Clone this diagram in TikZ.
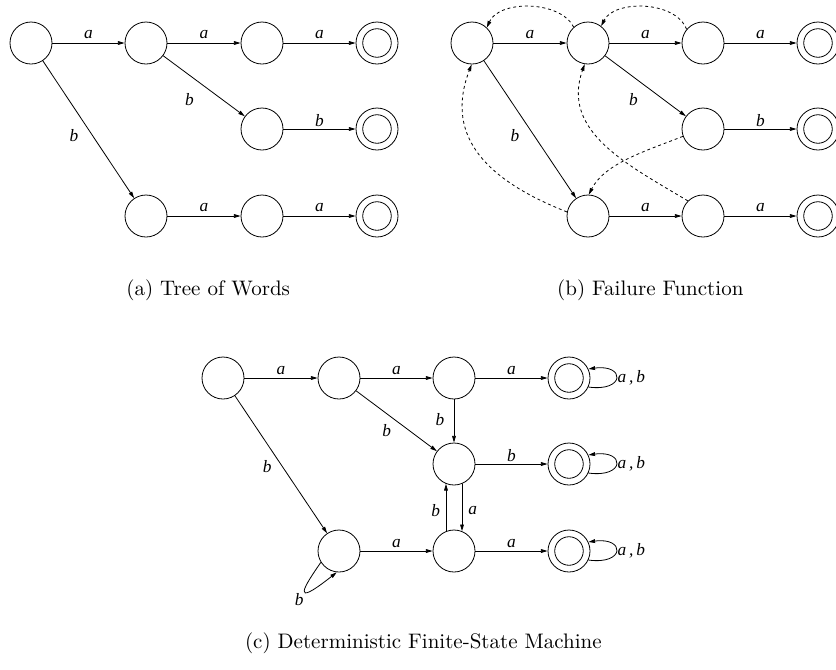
\documentclass[tikz,border=0pt]{standalone}
\usepackage{fontspec}
\newfontfamily\lblfamily{Liberation Serif}
\usetikzlibrary{arrows.meta}
\newcommand\lblfont{\fontsize{13}{15}\selectfont\lblfamily\itshape}
\newcommand\capfont{\fontsize{10}{12}\selectfont}
\tikzset{
  state/.style={circle, draw, line width=0.6pt, minimum size=31.5pt, inner sep=0pt},
  accept/.style={state, path picture={\draw[line width=0.6pt] (path picture bounding box.center) circle (10.7pt);}},
  arr/.style={-{Triangle[length=5pt,width=2.8pt]}, line width=0.6pt},
  fail/.style={arr, dash pattern=on 2.2pt off 2.2pt},
  lab/.style={font=\lblfont, inner sep=0pt},
  captext/.style={font=\capfont, inner sep=0pt, scale=1.575}
}
\begin{document}
\begin{tikzpicture}[x=0.75pt, y=-0.75pt]
\useasboundingbox (0,0) rectangle (836,669);
\clip (0,0) rectangle (836,669);
% ---------- panel (a)
\node[state]  (a0) at (31,43) {};
\node[state]  (a1) at (146,43) {};
\node[state]  (a2) at (262,43) {};
\node[accept] (a3) at (377,43) {};
\node[state]  (am) at (262,129) {};
\node[accept] (am2) at (377,129) {};
\node[state]  (ab) at (146,216) {};
\node[state]  (ab2) at (262,216) {};
\node[accept] (ab3) at (377,216) {};
\draw[arr] (a0) -- node[lab, shift={(0,-8)}] (la1) {a} (a1);
\draw[arr] (a1) -- node[lab, shift={(0,-8)}] (la2) {a} (a2);
\draw[arr] (a2) -- node[lab, shift={(0,-8)}] (la3) {a} (a3);
\draw[arr] (a1) -- node[lab, shift={(-14.6,13.3)}] (la4) {b} (am);
\draw[arr] (am) -- node[lab, shift={(0,-8)}] (la5) {b} (am2);
\draw[arr] (a0) -- node[lab, shift={(-14.5,6.2)}] (la6) {b} (ab);
\draw[arr] (ab) -- node[lab, shift={(0,-8)}] (la7) {a} (ab2);
\draw[arr] (ab2) -- node[lab, shift={(0,-8)}] (la8) {a} (ab3);
\node[captext] (capa) at (208.2,290) {(a) Tree of Words};
% ---------- panel (b)
\node[state]  (b0) at (472,43) {};
\node[state]  (b1) at (588,43) {};
\node[state]  (b2) at (703,43) {};
\node[accept] (b3) at (818,43) {};
\node[state]  (bm) at (703,129) {};
\node[accept] (bm2) at (818,129) {};
\node[state]  (bb) at (588,216) {};
\node[state]  (bb2) at (703,216) {};
\node[accept] (bb3) at (818,216) {};
\draw[arr] (b0) -- node[lab, shift={(0,-8)}] (lb1) {a} (b1);
\draw[arr] (b1) -- node[lab, shift={(0,-8)}] (lb2) {a} (b2);
\draw[arr] (b2) -- node[lab, shift={(0,-8)}] (lb3) {a} (b3);
\draw[arr] (b1) -- node[lab, shift={(-12,13.3)}] (lb4) {b} (bm);
\draw[arr] (bm) -- node[lab, shift={(0,-8)}] (lb5) {b} (bm2);
\draw[arr] (b0) -- node[lab, shift={(-15,6.2)}] (lb6) {b} (bb);
\draw[arr] (bb) -- node[lab, shift={(0,-8)}] (lb7) {a} (bb2);
\draw[arr] (bb2) -- node[lab, shift={(0,-8)}] (lb8) {a} (bb3);
\draw[fail] (b1.132) .. controls (560,0) and (499,0) .. (b0.46);
\draw[fail] (b2.140) .. controls (675,0) and (614,0) .. (b1.52);
\draw[fail] (bb.169) .. controls (491,182) and (443,139) .. (b0.269);
\draw[fail] (bb2.135) .. controls (626,164) and (561,131) .. (b1.261);
\draw[fail] (bm.200) .. controls (646,151) and (605,163) .. (bb.88);
\node[captext] (capb) at (650.3,290) {(b) Failure Function};
% ---------- panel (c)
\node[state]  (c0) at (223,378) {};
\node[state]  (c1) at (339,378) {};
\node[state]  (c2) at (454,378) {};
\node[accept] (c3) at (569,378) {};
\node[state]  (cm) at (454,464) {};
\node[accept] (cm2) at (569,464) {};
\node[state]  (cb) at (339,551) {};
\node[state]  (cb2) at (454,551) {};
\node[accept] (cb3) at (569,551) {};
\draw[arr] (c0) -- node[lab, shift={(0,-8)}] (lc1) {a} (c1);
\draw[arr] (c1) -- node[lab, shift={(0,-8)}] (lc2) {a} (c2);
\draw[arr] (c2) -- node[lab, shift={(0,-8)}] (lc3) {a} (c3);
\draw[arr] (c1) -- node[lab, shift={(-9.8,10)}] (lc4) {b} (cm);
\draw[arr] (c2) -- node[lab, shift={(-14,-1)}] (lc5) {b} (cm);
\draw[arr] (cm) -- node[lab, shift={(0,-8)}] (lc6) {b} (cm2);
\draw[arr] (c0) -- node[lab, shift={(-13.7,2.2)}] (lc7) {b} (cb);
\draw[arr] (cb) -- node[lab, shift={(0,-8)}] (lc8) {a} (cb2);
\draw[arr] (cb2) -- node[lab, shift={(0,-8)}] (lc9) {a} (cb3);
\draw[arr] (cm.-68) -- node[lab, shift={(10.7,3.2)}] (lc10) {a} (cb2.68);
\draw[arr] (cb2.112) -- node[lab, shift={(-10.3,3.2)}] (lc11) {b} (cm.-112);
\draw[arr] (c3.-25) .. controls +(37,5) and +(37,-5) .. node[lab, anchor=west, shift={(1,0)}] (lc12) {a\,,\,b} (c3.25);
\draw[arr] (cm2.-25) .. controls +(37,5) and +(37,-5) .. node[lab, anchor=west, shift={(1,0)}] (lc13) {a\,,\,b} (cm2.25);
\draw[arr] (cb3.-25) .. controls +(37,5) and +(37,-5) .. node[lab, anchor=west, shift={(1,0)}] (lc14) {a\,,\,b} (cb3.25);
\draw[arr] (cb.212) .. controls +(-16,23) and +(-48,38) .. node[lab, shift={(-5.7,9.3)}] (lc15) {b} (cb.264);
\node[captext] (capc) at (423.3,643) {(c) Deterministic Finite-State Machine};
\end{tikzpicture}
\end{document}
